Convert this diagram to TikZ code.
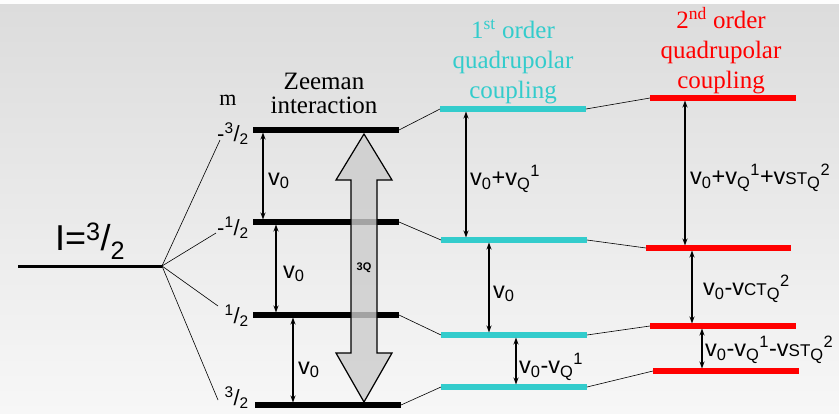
\documentclass[tikz,border=0pt]{standalone}
\usepackage{fontspec}
\setmainfont{Liberation Serif}
\setsansfont{Liberation Sans}
\usetikzlibrary{arrows.meta}
\definecolor{qcyan}{HTML}{33CCCC}
\definecolor{qred}{HTML}{FF0000}
\definecolor{bgtop}{RGB}{220,220,220}
\definecolor{bgbot}{RGB}{247,247,247}
\newcommand\fr[2]{\textsuperscript{#1}/\textsubscript{#2}}
\newcommand\sub[1]{\textsubscript{#1}}
\newcommand\sps[1]{\textsuperscript{#1}}
\newcommand\sm[1]{{\fontsize{17}{17}\selectfont #1}}
\begin{document}
\begin{tikzpicture}[x=1pt,y=-1pt,
  lev/.style={line width=6pt},
  ilev/.style={line width=3pt},
  fan/.style={line width=0.6pt},
  dbl/.style={{Stealth[length=7pt,width=5pt]}-{Stealth[length=7pt,width=5pt]}, line width=1.4pt, shorten >=2.5pt, shorten <=2.5pt},
  lab/.style={font=\sffamily\fontsize{23.5}{25}\selectfont, anchor=west, inner sep=0pt},
  mlab/.style={font=\sffamily\fontsize{22}{22}\selectfont, anchor=east, inner sep=0pt},
  ttl/.style={font=\rmfamily\fontsize{25}{30}\selectfont, align=center, inner sep=0pt}]
\useasboundingbox (0,0) rectangle (839,413);
\shade[top color=bgtop, bottom color=bgbot] (0,4) rectangle (839,413);
\fill[white!95!bgtop] (0,0) rectangle (839,4);

% I level
\coordinate (iL) at (18,266);
\coordinate (iR) at (162,266);
\draw[ilev] (iL) -- (iR);
\node[font=\sffamily\fontsize{36}{36}\selectfont, inner sep=0pt, anchor=base west] (ilab) at (55,250) {I=\fr{3}{2}};

% m labels
\node[font=\rmfamily\fontsize{22}{22}\selectfont, inner sep=0pt] (mlab) at (228,100) {m};
\node[mlab] (m1) at (249,134) {-\fr{3}{2}};
\node[mlab] (m2) at (249,228) {-\fr{1}{2}};
\node[mlab] (m3) at (249,316) {\fr{1}{2}};
\node[mlab] (m4) at (249,398) {\fr{3}{2}};
\coordinate (f1) at (220,140);
\coordinate (f2) at (216,233);
\coordinate (f3) at (218,306);
\coordinate (f4) at (218,400);
\foreach \f in {f1,f2,f3,f4} \draw[fan] (iR) -- (\f);

% Zeeman levels
\coordinate (z1L) at (253,130); \coordinate (z1R) at (399,130);
\coordinate (z2L) at (253,222); \coordinate (z2R) at (399,222);
\coordinate (z3L) at (253,315); \coordinate (z3R) at (399,315);
\coordinate (z4L) at (255,405); \coordinate (z4R) at (401,405);
\foreach \n in {1,2,3,4} \draw[lev] (z\n L) -- (z\n R);

\node[ttl, font=\rmfamily\fontsize{25}{24}\selectfont] (zt) at (324,93) {Zeeman\\interaction};

% 3Q arrow
\draw[line width=1.2pt, fill=gray!40, fill opacity=0.8, line join=miter]
  (364,134) -- (392,180) -- (377,180) -- (377,353) -- (392,353) -- (364,402)
  -- (336,353) -- (351,353) -- (351,180) -- (336,180) -- cycle;
\node[font=\sffamily\bfseries\fontsize{11}{11}\selectfont, inner sep=0pt] (q3) at (364,268) {3Q};

% Zeeman arrows
\coordinate (za1) at (263,130); \coordinate (za2) at (263,222);
\coordinate (zb1) at (276,222); \coordinate (zb2) at (276,315);
\coordinate (zc1) at (293,315); \coordinate (zc2) at (293,405);
\draw[dbl] (za1) -- (za2);
\draw[dbl] (zb1) -- (zb2);
\draw[dbl] (zc1) -- (zc2);
\node[lab] (v1) at (268,181) {v\sub{0}};
\node[lab] (v2) at (283,274) {v\sub{0}};
\node[lab] (v3) at (298,370) {v\sub{0}};

% cyan levels
\coordinate (c1L) at (440,109); \coordinate (c1R) at (586,109);
\coordinate (c2L) at (441,240); \coordinate (c2R) at (587,240);
\coordinate (c3L) at (441,335); \coordinate (c3R) at (587,335);
\coordinate (c4L) at (441,387); \coordinate (c4R) at (587,387);
\foreach \n in {1,2,3,4} \draw[lev, qcyan] (c\n L) -- (c\n R);
\draw[fan] (z1R) -- (c1L);
\draw[fan] (z2R) -- (c2L);
\draw[fan] (z3R) -- (c3L);
\draw[fan] (z4R) -- (c4L);
\node[ttl, text=qcyan] (ct) at (513,62) {1\sps{st} order\\quadrupolar\\coupling};

% cyan arrows
\coordinate (ca1) at (466,109); \coordinate (ca2) at (466,240);
\coordinate (cb1) at (489,240); \coordinate (cb2) at (489,335);
\coordinate (cc1) at (516,335); \coordinate (cc2) at (516,387);
\draw[dbl] (ca1) -- (ca2);
\draw[dbl] (cb1) -- (cb2);
\draw[dbl] (cc1) -- (cc2);
\node[lab] (cv1) at (470,179) {v\sub{0}+v\sub{Q}\sps{1}};
\node[lab] (cv2) at (493,294) {v\sub{0}};
\node[lab] (cv3) at (519,367) {v\sub{0}-v\sub{Q}\sps{1}};

% red levels
\coordinate (r1L) at (650,98);  \coordinate (r1R) at (796,98);
\coordinate (r2L) at (646,248); \coordinate (r2R) at (791,248);
\coordinate (r3L) at (650,326); \coordinate (r3R) at (796,326);
\coordinate (r4L) at (653,371); \coordinate (r4R) at (799,371);
\foreach \n in {1,2,3,4} \draw[lev, line width=6.5pt, qred] (r\n L) -- (r\n R);
\draw[fan] (c1R) -- (r1L);
\draw[fan] (c2R) -- (r2L);
\draw[fan] (c3R) -- (r3L);
\draw[fan] (c4R) -- (r4L);
\node[ttl, text=qred] (rt) at (721,51) {2\sps{nd} order\\quadrupolar\\coupling};

% red arrows
\coordinate (ra1) at (685,98);  \coordinate (ra2) at (685,248);
\coordinate (rb1) at (692,248); \coordinate (rb2) at (692,326);
\coordinate (rc1) at (702,326); \coordinate (rc2) at (702,371);
\draw[dbl] (ra1) -- (ra2);
\draw[dbl] (rb1) -- (rb2);
\draw[dbl] (rc1) -- (rc2);
\node[lab] (rv1) at (690,178) {v\sub{0}+v\sub{Q}\sps{1}+v\sm{ST}\sub{Q}\sps{2}};
\node[lab] (rv2) at (703,289) {v\sub{0}-v\sm{CT}\sub{Q}\sps{2}};
\node[lab] (rv3) at (705,350) {v\sub{0}-v\sub{Q}\sps{1}-v\sm{ST}\sub{Q}\sps{2}};
\end{tikzpicture}
\end{document}
